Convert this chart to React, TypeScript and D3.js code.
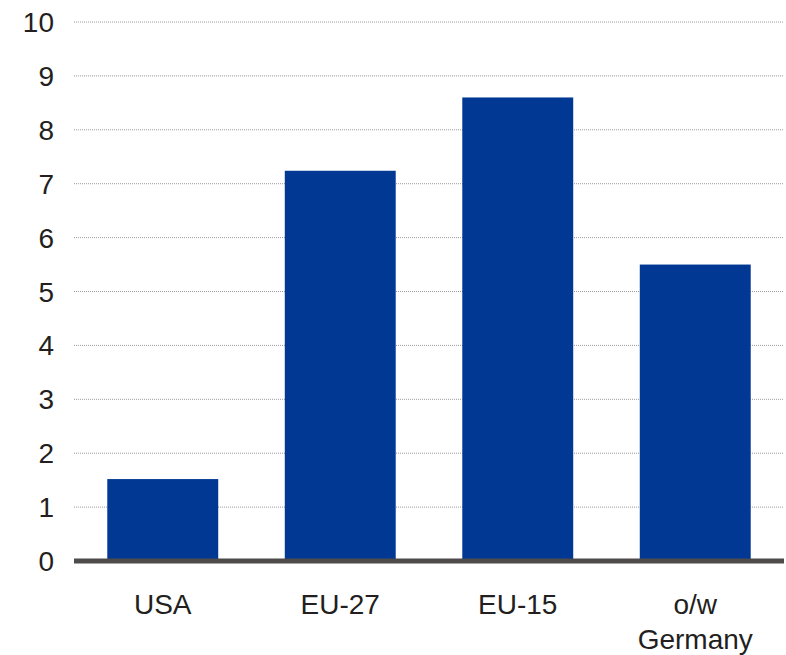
import React from "react";
import * as d3 from "d3";

const categories: string[][] = [["USA"], ["EU-27"], ["EU-15"], ["o/w", "Germany"]];
const values: number[] = [1.52, 7.24, 8.6, 5.5];
const yTicks: number[] = [0, 1, 2, 3, 4, 5, 6, 7, 8, 9, 10];

export default function App() {
  const width = 786;
  const height = 655;
  const left = 74;
  const right = 784;
  const top = 22;
  const bottom = 561;

  const x = d3
    .scaleBand<number>()
    .domain(categories.map((_, i) => i))
    .range([left, right])
    .paddingInner(0.375)
    .paddingOuter(0.1875);
  const y = d3.scaleLinear().domain([0, 10]).range([bottom, top]);

  const font = "'Liberation Sans', Arial, sans-serif";

  return (
    <svg
      width={width}
      height={height}
      style={{ position: "absolute", left: 0, top: 0, background: "#fff" }}
    >
      {yTicks
        .filter((t) => t > 0)
        .map((t) => (
          <line
            key={"g" + t}
            x1={left}
            x2={right}
            y1={y(t)}
            y2={y(t)}
            stroke="#9a9a9a"
            strokeWidth={1}
            strokeDasharray="1,1"
          />
        ))}
      {values.map((v, i) => (
        <rect
          key={"b" + i}
          x={x(i)}
          width={x.bandwidth()}
          y={y(v)}
          height={y(0) - y(v)}
          fill="#003893"
        />
      ))}
      <line x1={left} x2={right} y1={y(0)} y2={y(0)} stroke="#4e4b4b" strokeWidth={5} />
      {yTicks.map((t) => (
        <text
          key={"t" + t}
          x={54}
          y={y(t)}
          dy="0.36em"
          textAnchor="end"
          fontFamily={font}
          fontSize={28}
          fill="#231f20"
        >
          {t}
        </text>
      ))}
      {categories.map((lines, i) => (
        <text
          key={"c" + i}
          x={(x(i) as number) + x.bandwidth() / 2}
          y={614}
          textAnchor="middle"
          fontFamily={font}
          fontSize={28}
          fill="#231f20"
        >
          {lines.map((l, j) => (
            <tspan key={j} x={(x(i) as number) + x.bandwidth() / 2} dy={j === 0 ? 0 : 35}>
              {l}
            </tspan>
          ))}
        </text>
      ))}
    </svg>
  );
}
